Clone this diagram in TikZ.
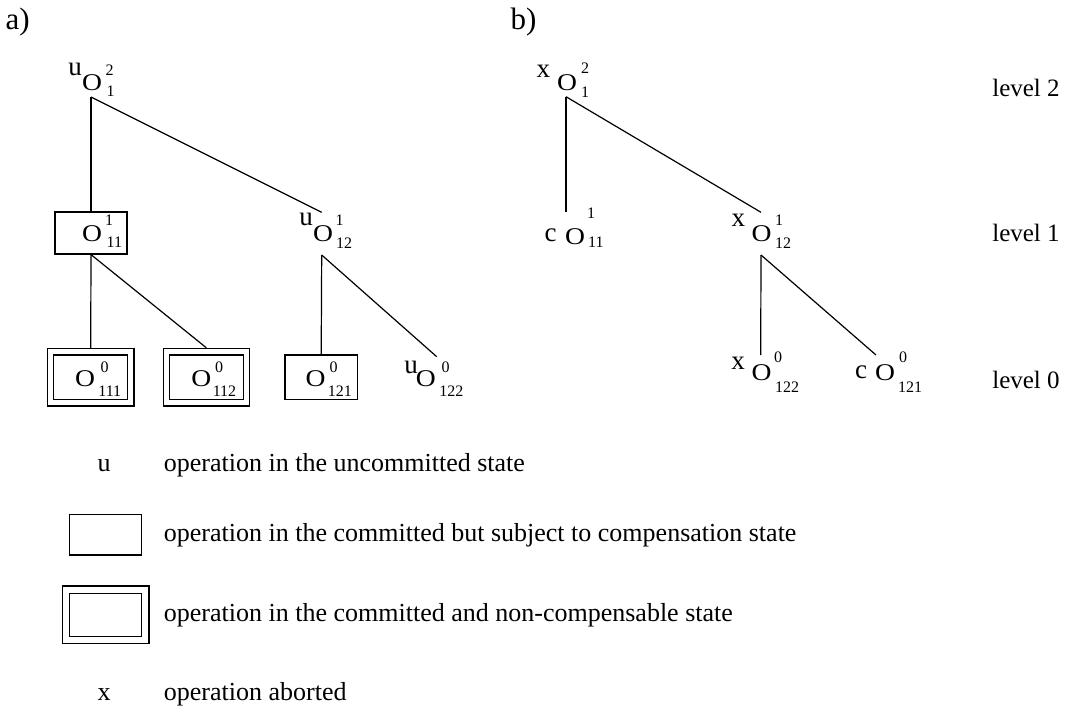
\documentclass[tikz,border=0pt]{standalone}
\usepackage{fontspec}
\setmainfont{Liberation Serif}
\begin{document}
\begin{tikzpicture}[x=1pt,y=-1pt,line width=1.2pt,
  op/.style={inner sep=0pt,font=\fontsize{24}{24}\selectfont},
  scr/.style={inner sep=0pt,font=\fontsize{16}{16}\selectfont},
  sub/.style={scr,anchor=west},
  pre/.style={inner sep=0pt,font=\fontsize{27}{27}\selectfont},
  txt/.style={inner sep=0pt,anchor=base west,font=\fontsize{26}{26}\selectfont},
  pnl/.style={inner sep=0pt,anchor=base west,font=\fontsize{31}{31}\selectfont},
  lvl/.style={inner sep=0pt,anchor=base west,font=\fontsize{25}{25}\selectfont}
]
\useasboundingbox (0,0) rectangle (1076,713);
\newcommand{\bigO}{\scalebox{1.15}[1]{O}}

% panel labels
\node[pnl] (la) at (5,29) {a)};
\node[pnl] (lb) at (510,29) {b)};

% ---------- tree a ----------
\node[pre] (ua) at (75,69) {u};
\node[op] (oa) at (92,82.5) {\bigO};
\node[scr] (oa2) at (109.5,70.5) {2};
\node[sub] (oa1) at (106,91.5) {1};
\coordinate (ra) at (91,97);

\node[draw,inner sep=0pt,minimum width=72pt,minimum height=42pt] (b11) at (91,233) {};
\node[op] (o11) at (92,234) {\bigO};
\node[scr] (o11s) at (109,220.5) {1};
\node[sub] (o11b) at (106,242) {11};

\node[pre] (u12) at (306,219) {u};
\node[op] (o12) at (323,234) {\bigO};
\node[scr] (o12s) at (339.5,220) {1};
\node[sub] (o12b) at (335.5,243) {12};
\coordinate (ta12) at (321.7,212.3);
\coordinate (ba12) at (321.7,255);

\node[draw,inner sep=0pt,minimum width=86.7pt,minimum height=57.7pt] (d1o) at (90.7,377.2) {};
\node[draw,inner sep=0pt,minimum width=74pt,minimum height=44.3pt] (d1i) at (90.3,377.2) {};
\node[op] (o111) at (85,379) {\bigO};
\node[scr] (o111s) at (104.5,367) {0};
\node[sub] (o111b) at (97.8,391.5) {111};

\node[draw,inner sep=0pt,minimum width=86pt,minimum height=57.7pt] (d2o) at (206.3,377.2) {};
\node[draw,inner sep=0pt,minimum width=74pt,minimum height=44.3pt] (d2i) at (206.3,377.2) {};
\node[op] (o112) at (201.3,379) {\bigO};
\node[scr] (o112s) at (219,367) {0};
\node[sub] (o112b) at (212.2,391.5) {112};

\node[draw,inner sep=0pt,minimum width=72.3pt,minimum height=44.3pt] (b121) at (321.2,377.2) {};
\node[op] (o121) at (315.7,379) {\bigO};
\node[scr] (o121s) at (333.7,367) {0};
\node[sub] (o121b) at (327.2,391.5) {121};

\node[pre] (u122) at (411,367.5) {u};
\node[op] (o122) at (425.8,379) {\bigO};
\node[scr] (o122s) at (445.5,367) {0};
\node[sub] (o122b) at (438.8,391.5) {122};
\coordinate (ta122) at (436.7,356.7);

\draw (ra) -- (b11.north);
\draw (ra) -- (ta12);
\draw (b11.south) -- (d1o.north);
\draw (b11.south) -- (d2o.north);
\draw (ba12) -- (b121.north);
\draw (ba12) -- (ta122);

% ---------- tree b ----------
\node[pre] (xb) at (543.3,71) {x};
\node[op] (ob) at (567,82.7) {\bigO};
\node[scr] (ob2) at (585,68) {2};
\node[scr] (ob1) at (585,92) {1};
\coordinate (rb) at (566,96.7);

\node[pre] (c11) at (550.7,235) {c};
\node[op] (ob11) at (575,236.7) {\bigO};
\node[scr] (ob11s) at (591,213) {1};
\node[sub] (ob11b) at (587.5,242) {11};
\coordinate (tb11) at (566,211.7);

\node[pre] (x12) at (738.3,220) {x};
\node[op] (ob12) at (761.7,234) {\bigO};
\node[scr] (ob12s) at (779,220) {1};
\node[sub] (ob12b) at (774.5,243) {12};
\coordinate (tb12) at (761,212.3);
\coordinate (bb12) at (761,255);

\node[pre] (x122) at (738,363) {x};
\node[op] (ob122) at (761.7,373) {\bigO};
\node[scr] (ob122s) at (778,357) {0};
\node[sub] (ob122b) at (774.5,387.5) {122};
\coordinate (tb122) at (760.7,355);

\node[pre] (c121) at (861,372.5) {c};
\node[op] (ob121) at (885,373) {\bigO};
\node[scr] (ob121s) at (903,357) {0};
\node[sub] (ob121b) at (897.5,387.5) {121};
\coordinate (tb121) at (876,355);

\draw (rb) -- (tb11);
\draw (rb) -- (tb12);
\draw (bb12) -- (tb122);
\draw (bb12) -- (tb121);

% level labels
\node[lvl] (lv2) at (991.7,96.7) {level 2};
\node[lvl] (lv1) at (991.7,241.7) {level 1};
\node[lvl] (lv0) at (991.7,388.3) {level 0};

% ---------- legend ----------
\node[txt,anchor=base] (lu) at (104,471) {u};
\node[txt] (tu) at (163.3,471) {operation in the uncommitted state};
\node[draw,inner sep=0pt,minimum width=72.4pt,minimum height=40.7pt] (lbox) at (105.5,534.6) {};
\node[txt] (tbox) at (163.3,541.5) {operation in the committed but subject to compensation state};
\node[draw,inner sep=0pt,minimum width=86.7pt,minimum height=57.3pt] (ldo) at (105.6,614.7) {};
\node[draw,inner sep=0pt,minimum width=72.4pt,minimum height=43.4pt] (ldi) at (105.5,615) {};
\node[txt] (tdbox) at (163.3,621.7) {operation in the committed and non-compensable state};
\node[txt,anchor=base] (lx) at (104,700) {x};
\node[txt] (tx) at (163.3,700) {operation aborted};
\end{tikzpicture}
\end{document}
